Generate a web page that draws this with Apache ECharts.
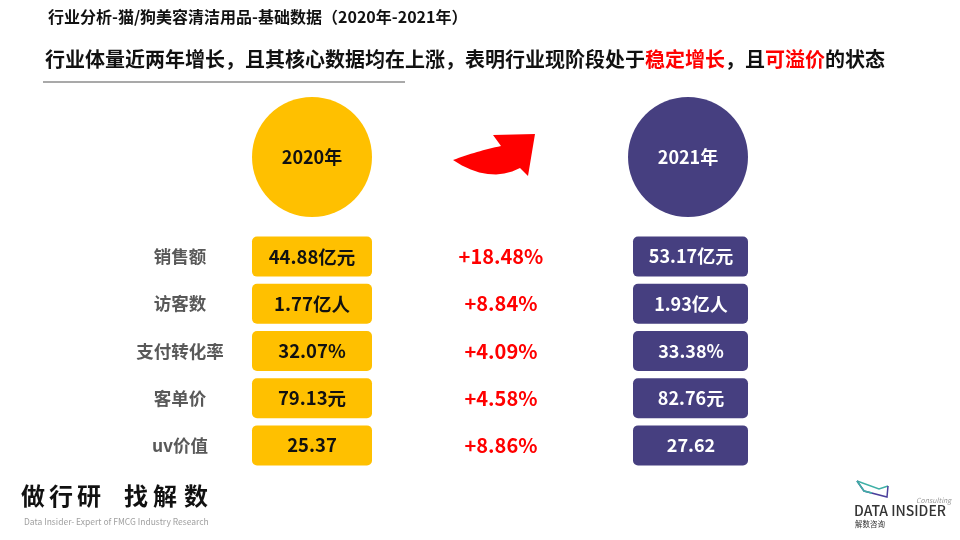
<!DOCTYPE html>
<html><head><meta charset="utf-8">
<script src="https://cdn.jsdelivr.net/npm/echarts@6/dist/echarts.min.js"></script>
<style>html,body{margin:0;padding:0;background:#fff}#c{width:960px;height:540px}</style>
</head><body><div id="c"></div>
<script>
const titleText = '行业分析-猫/狗美容清洁用品-基础数据（2020年-2021年）';
const years = ['2020年', '2021年'];
const metrics = ['销售额', '访客数', '支付转化率', '客单价', 'uv价值'];
const units = ['亿元', '亿人', '%', '元', ''];
const values2020 = [44.88, 1.77, 32.07, 79.13, 25.37];
const values2021 = [53.17, 1.93, 33.38, 82.76, 27.62];
const growth = [18.48, 8.84, 4.09, 4.58, 8.86];
const sloganChars = ['做', '行', '研', '找', '解', '数'];

const FF = '"Noto Sans CJK SC", "Noto Sans", sans-serif';
const fmt = (v, u) => v.toFixed(2) + u;

function quad(p0, c, p2, n) {
  const pts = [];
  for (let k = 0; k <= n; k++) {
    const t = k / n, a = (1 - t) * (1 - t), b = 2 * (1 - t) * t, d = t * t;
    pts.push([a * p0[0] + b * c[0] + d * p2[0], a * p0[1] + b * c[1] + d * p2[1]]);
  }
  return pts;
}
const arrowPts = []
  .concat(quad([453, 160], [477, 151], [501, 146], 16))
  .concat([[493, 135], [535, 134], [528, 176]])
  .concat(quad([520, 168], [489, 184], [453, 160], 16));

const sloganX = [33, 61, 89, 136, 165, 196];

const chart = echarts.init(document.getElementById('c'));
const rows = metrics.map((m, i) => [0, i]);

chart.setOption({
  backgroundColor: '#fff',
  animation: false,
  grid: { left: 0, right: 0, top: 233, bottom: 71 },
  xAxis: { type: 'value', min: 0, max: 960, show: false },
  yAxis: { type: 'category', data: metrics, inverse: true, show: false },
  series: [{
    type: 'custom',
    data: rows,
    renderItem: function (params, api) {
      const i = api.value(1);
      const y = api.coord([0, i])[1];
      const X = v => api.coord([v, i])[0];
      const h = 40;
      return {
        type: 'group',
        children: [
          { type: 'text', style: { text: metrics[i], x: X(180), y: y, align: 'center', verticalAlign: 'middle', fill: '#595959', font: 'bold 17.5px ' + FF } },
          { type: 'rect', shape: { x: X(252), y: y - h / 2, width: 120, height: h, r: 5 }, style: { fill: '#FFC000' } },
          { type: 'text', style: { text: fmt(values2020[i], units[i]), x: X(312), y: y, align: 'center', verticalAlign: 'middle', fill: '#111', font: 'bold 18.5px ' + FF } },
          { type: 'text', style: { text: '+' + growth[i].toFixed(2) + '%', x: X(501), y: y, align: 'center', verticalAlign: 'middle', fill: '#FF0000', font: 'bold 20px ' + FF } },
          { type: 'rect', shape: { x: X(633), y: y - h / 2, width: 115, height: h, r: 5 }, style: { fill: '#463F80' } },
          { type: 'text', style: { text: fmt(values2021[i], units[i]), x: X(691), y: y, align: 'center', verticalAlign: 'middle', fill: '#fff', font: 'bold 18px ' + FF } }
        ]
      };
    }
  }],
  graphic: [
    { type: 'text', x: 48, y: 9, style: { text: titleText, fill: '#111', font: 'bold 16px ' + FF } },
    { type: 'text', x: 45, y: 49, style: {
        text: '{b|行业体量近两年增长，且其核心数据均在上涨，表明行业现阶段处于}{r|稳定增长}{b|，且}{r|可溢价}{b|的状态}',
        rich: {
          b: { fill: '#111', fontSize: 20, fontWeight: 'bold', fontFamily: FF },
          r: { fill: '#FF0000', fontSize: 20, fontWeight: 'bold', fontFamily: FF }
        }
      } },
    { type: 'line', shape: { x1: 43, y1: 82, x2: 405, y2: 82 }, style: { stroke: '#8c8c8c', lineWidth: 1.5 } },
    { type: 'circle', shape: { cx: 312, cy: 157, r: 60 }, style: { fill: '#FFC000' } },
    { type: 'text', x: 312, y: 157, style: { text: years[0], align: 'center', verticalAlign: 'middle', fill: '#111', font: 'bold 18px ' + FF } },
    { type: 'circle', shape: { cx: 688, cy: 157, r: 60 }, style: { fill: '#463F80' } },
    { type: 'text', x: 688, y: 157, style: { text: years[1], align: 'center', verticalAlign: 'middle', fill: '#fff', font: 'bold 18px ' + FF } },
    { type: 'polygon', shape: { points: arrowPts }, style: { fill: '#FF0000' } }
  ].concat(sloganChars.map((ch, k) => ({
    type: 'text', x: sloganX[k], y: 496, style: { text: ch, align: 'center', verticalAlign: 'middle', fill: '#111', font: 'bold 24px ' + FF }
  }))).concat([
    { type: 'text', x: 24, y: 518, style: { text: 'Data Insider- Expert of FMCG Industry Research', fill: '#a0a0a0', font: '8.5px ' + FF } },
    { type: 'polyline', shape: { points: [[857, 481], [879, 489], [888, 486]] }, style: { stroke: '#3fb0a6', lineWidth: 1.5, fill: null } },
    { type: 'polyline', shape: { points: [[857, 481], [864, 491], [887, 497], [888, 486]] }, style: { stroke: '#4b3f9c', lineWidth: 1.5, fill: null } },
    { type: 'polyline', shape: { points: [[857, 481], [864, 491], [872, 493]] }, style: { stroke: '#3fb0a6', lineWidth: 1.5, fill: null } },
    { type: 'text', x: 916, y: 497, style: { text: 'Consulting', fill: '#999', font: 'italic 7px ' + FF } },
    { type: 'text', x: 854, y: 511, style: { text: 'DATA INSIDER', fill: '#333', verticalAlign: 'middle', font: '500 14px ' + FF } },
    { type: 'text', x: 855, y: 524, style: { text: '解数咨询', fill: '#333', verticalAlign: 'middle', font: '7.5px ' + FF } }
  ])
});
</script></body></html>
